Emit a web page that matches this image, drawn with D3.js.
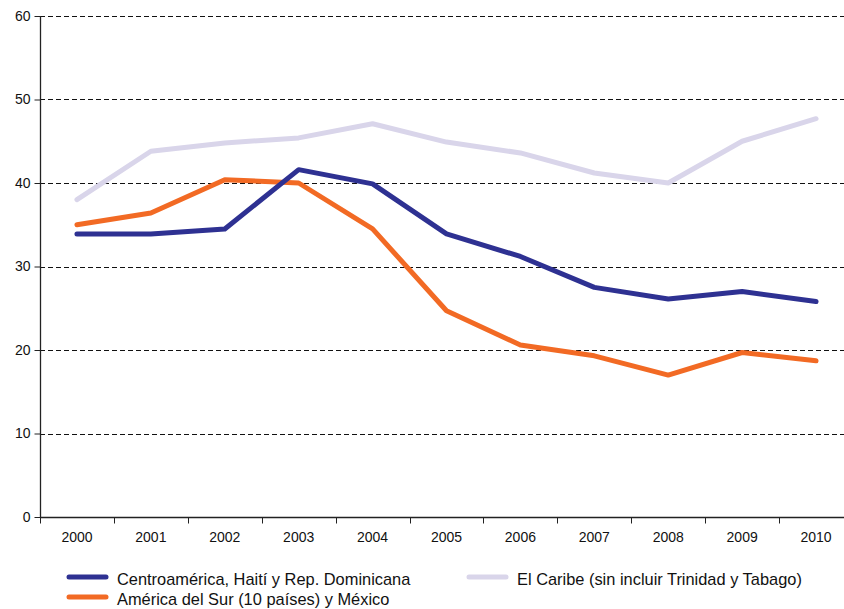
<!DOCTYPE html>
<html>
<head>
<meta charset="utf-8">
<script src="https://cdn.jsdelivr.net/npm/d3@7"></script>
<style>
body { margin: 0; background: #fff; }
svg { display: block; font-family: "Liberation Sans", Arial, sans-serif; }
</style>
</head>
<body>
<svg id="chart" width="844" height="609"></svg>
<script>
var years = ["2000", "2001", "2002", "2003", "2004", "2005", "2006", "2007", "2008", "2009", "2010"];
var centro = [33.9, 33.9, 34.5, 41.6, 39.9, 33.9, 31.2, 27.5, 26.1, 27.0, 25.8];
var sur = [35.0, 36.4, 40.4, 40.0, 34.5, 24.7, 20.6, 19.3, 17.0, 19.7, 18.7];
var caribe = [38.0, 43.8, 44.8, 45.4, 47.1, 44.9, 43.6, 41.2, 40.0, 45.0, 47.7];
var yTicks = [0, 10, 20, 30, 40, 50, 60];

var series = [
    { name: "El Caribe (sin incluir Trinidad y Tabago)", values: caribe, color: "#d9d5ea" },
    { name: "América del Sur (10 países) y México", values: sur, color: "#f26a24" },
    { name: "Centroamérica, Haití y Rep. Dominicana", values: centro, color: "#2e3192" }
];

var svg = d3.select("#chart");
var plotLeft = 40, plotRight = 853, plotTop = 16, plotBottom = 517;

var x = d3.scaleBand().domain(years).range([plotLeft, plotRight]);
var y = d3.scaleLinear().domain([0, 60]).range([plotBottom, plotTop]);

// grid
svg.append("g").selectAll("line")
    .data(yTicks.filter(function(d) { return d > 0; }))
    .enter().append("line")
    .attr("x1", plotLeft).attr("x2", 844)
    .attr("y1", function(d) { return Math.round(y(d)) + 0.5; })
    .attr("y2", function(d) { return Math.round(y(d)) + 0.5; })
    .attr("stroke", "#111")
    .attr("stroke-width", 1)
    .attr("stroke-dasharray", "5,3");

// y axis
var yAxis = svg.append("g")
    .attr("transform", "translate(" + (plotLeft + 0.5) + ",0)")
    .call(d3.axisLeft(y).tickValues(yTicks).tickSize(6).tickPadding(4));
yAxis.select(".domain").attr("stroke", "#222").attr("stroke-width", 1.3)
    .attr("d", "M0," + plotTop + "V" + plotBottom);
yAxis.selectAll(".tick line").attr("stroke", "#222");
yAxis.selectAll("text").attr("font-size", 14).attr("fill", "#111")
    .attr("font-family", "Liberation Sans, Arial, sans-serif");

// x axis
var xAxis = svg.append("g")
    .attr("transform", "translate(0," + (plotBottom + 0.5) + ")")
    .call(d3.axisBottom(x).tickSize(0).tickPadding(15));
xAxis.select(".domain").attr("stroke", "#222").attr("stroke-width", 1.3)
    .attr("d", "M" + plotLeft + ",0H844");
xAxis.selectAll("text").attr("font-size", 14).attr("fill", "#111")
    .attr("font-family", "Liberation Sans, Arial, sans-serif");
xAxis.selectAll(".sep")
    .data(years)
    .enter().append("line")
    .attr("class", "sep")
    .attr("x1", function(d) { return Math.round(x(d)) + 0.5; })
    .attr("x2", function(d) { return Math.round(x(d)) + 0.5; })
    .attr("y1", 0).attr("y2", 6)
    .attr("stroke", "#222");

// lines
var line = d3.line()
    .x(function(d, i) { return x(years[i]) + x.bandwidth() / 2; })
    .y(function(d) { return y(d); });

svg.append("g").selectAll("path")
    .data(series)
    .enter().append("path")
    .attr("d", function(s) { return line(s.values); })
    .attr("fill", "none")
    .attr("stroke", function(s) { return s.color; })
    .attr("stroke-width", 5)
    .attr("stroke-linecap", "round")
    .attr("stroke-linejoin", "round");

// legend
var legendItems = [
    { s: series[2], x: 69, y: 577 },
    { s: series[1], x: 69, y: 597 },
    { s: series[0], x: 469, y: 577 }
];
var lg = svg.append("g").selectAll("g")
    .data(legendItems)
    .enter().append("g")
    .attr("transform", function(d) { return "translate(" + d.x + "," + d.y + ")"; });
lg.append("line")
    .attr("x1", 0).attr("x2", 37)
    .attr("stroke", function(d) { return d.s.color; })
    .attr("stroke-width", 5)
    .attr("stroke-linecap", "round");
lg.append("text")
    .attr("x", 48).attr("y", 8)
    .attr("font-size", 16.4)
    .attr("fill", "#111")
    .text(function(d) { return d.s.name; });
</script>
</body>
</html>
